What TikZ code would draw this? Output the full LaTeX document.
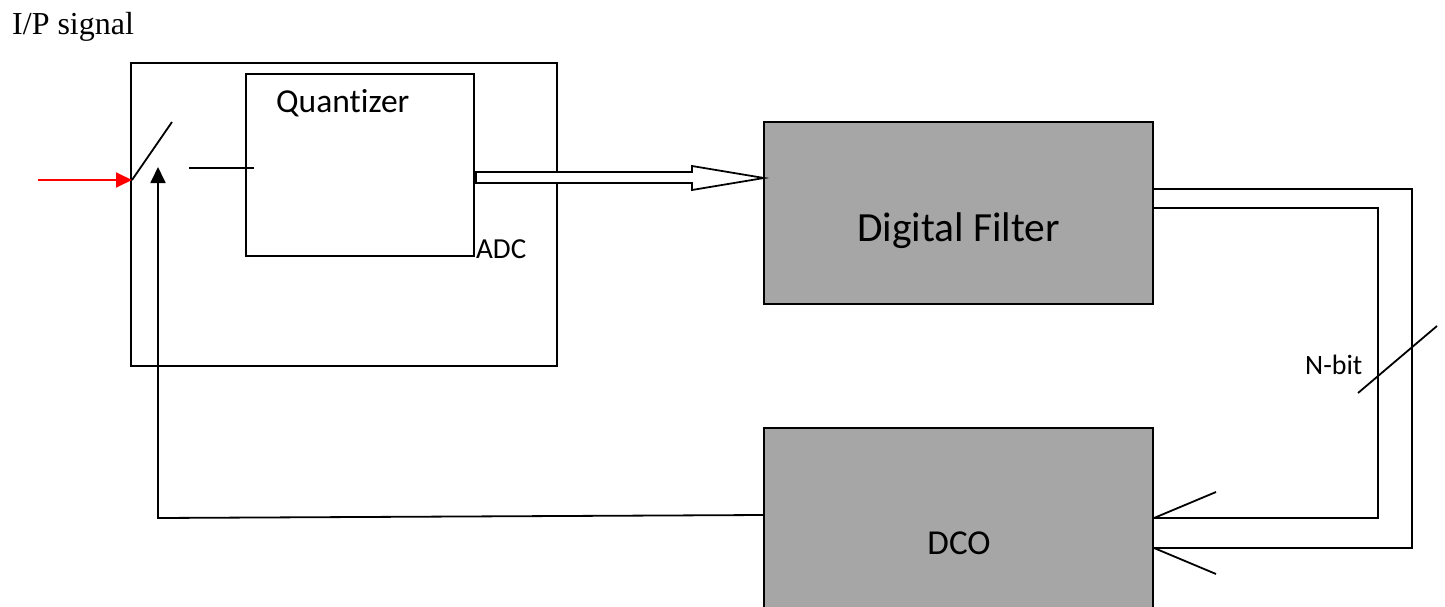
\documentclass[tikz,border=0pt]{standalone}
\usepackage{fontspec}
\setmainfont{Liberation Serif}
\newfontfamily\calibri[Ligatures=NoCommon]{Carlito}
\usetikzlibrary{positioning, arrows.meta, calc}
\definecolor{blockgray}{HTML}{A6A6A6}

\begin{document}
\begin{tikzpicture}[
    x=1pt, y=-1pt,
    box/.style={draw, rectangle, line width=2pt, inner sep=0pt},
    graybox/.style={box, fill=blockgray},
    lbl/.style={inner sep=0pt, anchor=base west, font=\calibri\fontsize{#1}{#1}\selectfont},
    wire/.style={line width=1.8pt},
    arr/.style={wire, -{Triangle[length=16pt, width=15pt]}}
]
    \useasboundingbox (0,0) rectangle (1445,607);

    \node[anchor=base west, inner sep=0pt, font=\fontsize{32}{38}\selectfont] (ipsig) at (12,35) {I/P signal};

    \node[box, minimum width=426pt, minimum height=303pt] (adc) at (344,214.5) {};
    \node[box, minimum width=228pt, minimum height=182pt] (quant) at (360,165) {};
    \node[lbl=33.5] (qname) at (276,113) {Quantizer};
    \node[lbl=29] (adcname) at (476,258) {ADC};

    \node[graybox, minimum width=389pt, minimum height=182pt] (filter) at (958.5,213) {};
    \node[graybox, minimum width=389pt, minimum height=200pt] (dco) [below=122pt of filter] {};
    \node[lbl=41.5, anchor=base] (fname) at (958.5,241) {Digital Filter};
    \node[lbl=35, anchor=base] (dname) at (959,554) {DCO};
    \node[lbl=28] (nbit) at (1305,374) {N-bit};

    % sampling switch
    \coordinate (src) at (38,180);
    \coordinate (pivot) at (132,180);
    \coordinate (blade) at (172,122);
    \coordinate (swout) at (189,168);
    \coordinate (qin) at (254,168);
    \draw[arr, red] (src) -- (pivot);
    \draw[wire] (pivot) -- (blade);
    \draw[wire] (swout) -- (qin);

    % quantizer to filter
    \coordinate (qout) at (476,177.5);
    \coordinate (fin) at (764,178);
    \draw[wire, fill=white] ($(qout)+(0,-5.5)$) -- ++(216,0) -- ++(0,-6) -- (fin)
        -- ($(qout)+(216,12.5)$) -- ++(0,-7) -- ($(qout)+(0,5.5)$) -- cycle;

    % N-bit bus
    \draw[wire] (filter.east |- 0,189) -- (1412,189) -- (1412,548) -- (dco.east |- 0,548);
    \draw[wire] (filter.east |- 0,208) -- (1378,208) -- (1378,518) -- (dco.east |- 0,518);
    \draw[wire] (dco.east |- 0,518) -- ++(62,-26);
    \draw[wire] (dco.east |- 0,548) -- ++(62,26);
    \draw[wire] (1358,393) -- (1437,326);

    % feedback
    \draw[arr] (dco.west |- 0,515) -- (158,518) -- (158,167);
\end{tikzpicture}
\end{document}
